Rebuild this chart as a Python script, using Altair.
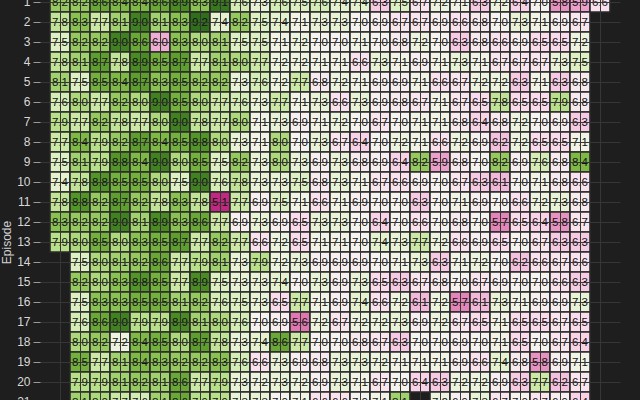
import altair as alt
import pandas as pd

N = None
seasons = list(range(1, 29))
episodes = list(range(1, 26))

ep01 = [8.2, 8.2, 8.6, 8.4, 8.4, 8.6, 8.9, 8.3, 9.1, 7.6, 7.3, 7.6, 7.5, 7.6, 7.4, 7.4, 6.3, 7.5, 6.7, 7.2, 7.1, 6.3, 7.2, 6.4, 7.0, 5.8, 5.9, 6.6]
ep02 = [7.8, 8.3, 7.7, 8.1, 9.0, 8.1, 8.3, 9.2, 7.4, 8.2, 7.5, 7.4, 7.1, 7.3, 7.3, 7.0, 6.9, 6.7, 6.7, 6.9, 6.6, 6.8, 7.0, 7.3, 7.1, 6.9, 6.7]
ep03 = [7.5, 8.2, 8.2, 9.0, 8.6, 6.0, 8.3, 8.0, 8.1, 7.5, 7.5, 7.1, 7.2, 7.0, 7.0, 7.1, 7.0, 6.8, 7.2, 7.0, 6.3, 6.8, 6.6, 6.9, 6.5, 6.5, 7.2]
ep04 = [7.8, 8.1, 8.7, 7.8, 8.9, 8.5, 8.7, 7.7, 8.1, 8.0, 7.7, 7.2, 7.2, 7.1, 7.1, 6.6, 7.3, 7.1, 6.9, 7.1, 7.3, 7.1, 6.7, 6.7, 6.7, 7.3, 7.5]
ep05 = [8.1, 7.5, 8.5, 8.4, 8.7, 8.3, 8.5, 8.2, 8.2, 7.3, 7.6, 7.2, 7.7, 6.8, 7.2, 7.1, 6.9, 6.9, 7.1, 6.6, 6.7, 7.2, 7.2, 6.3, 7.1, 6.3, 6.8]
ep06 = [7.6, 8.0, 7.7, 8.2, 8.0, 9.0, 8.5, 8.0, 7.7, 7.6, 7.3, 7.7, 7.1, 7.3, 6.6, 7.3, 6.9, 6.8, 6.7, 7.1, 6.7, 6.5, 7.8, 6.5, 6.5, 7.9, 6.8]
ep07 = [7.9, 7.7, 8.2, 7.8, 7.7, 8.0, 9.0, 7.8, 7.7, 8.0, 7.1, 7.3, 6.9, 7.1, 7.2, 7.0, 6.7, 7.0, 7.1, 7.1, 6.8, 6.4, 6.8, 7.2, 7.0, 6.9, 6.3]
ep08 = [7.7, 8.4, 7.9, 8.2, 8.7, 8.4, 8.5, 8.8, 8.0, 7.3, 7.1, 8.0, 7.0, 7.3, 6.7, 6.4, 7.0, 7.2, 7.1, 6.6, 7.2, 6.9, 6.2, 7.2, 6.5, 6.5, 7.1]
ep09 = [7.5, 8.1, 7.9, 8.8, 8.4, 9.0, 8.0, 8.5, 7.5, 8.2, 7.3, 8.0, 7.3, 6.9, 7.3, 6.8, 6.9, 6.4, 8.2, 5.9, 6.8, 7.0, 8.2, 6.9, 7.6, 6.8, 8.4]
ep10 = [7.4, 7.8, 8.8, 8.5, 8.5, 8.0, 7.5, 9.0, 7.6, 7.8, 7.3, 7.3, 7.5, 6.8, 7.3, 7.1, 6.7, 6.6, 6.9, 7.0, 6.7, 6.3, 6.1, 7.0, 7.1, 6.8, 6.6]
ep11 = [7.8, 8.8, 8.2, 8.7, 8.2, 7.8, 8.3, 7.8, 5.1, 7.7, 6.9, 7.5, 7.1, 6.6, 7.1, 6.9, 7.0, 7.0, 6.3, 7.0, 7.1, 6.9, 7.0, 6.6, 7.2, 7.3, 6.8]
ep12 = [8.3, 8.2, 8.2, 9.0, 8.1, 8.9, 8.3, 8.6, 7.7, 6.9, 7.3, 6.9, 6.5, 7.3, 7.3, 7.0, 6.4, 7.0, 6.6, 7.0, 6.8, 7.0, 5.7, 6.5, 6.4, 5.8, 6.7]
ep13 = [7.9, 8.0, 8.5, 8.0, 8.3, 8.5, 8.7, 7.7, 8.2, 7.7, 6.6, 7.2, 6.5, 7.1, 7.1, 7.0, 7.4, 7.3, 7.7, 7.2, 6.6, 6.9, 6.5, 7.0, 6.7, 6.3, 6.3]
ep14 = [N, 7.5, 8.0, 8.1, 8.2, 8.6, 7.7, 7.9, 8.1, 7.3, 7.9, 7.2, 7.3, 6.9, 6.9, 6.9, 7.0, 7.1, 7.3, 6.3, 7.1, 7.2, 7.0, 6.2, 6.6, 6.7, 6.6]
ep15 = [N, 8.2, 8.0, 8.3, 8.8, 8.5, 7.7, 8.9, 7.5, 7.3, 7.3, 7.4, 7.0, 7.3, 6.9, 7.3, 6.5, 6.3, 6.7, 6.8, 7.0, 6.7, 6.9, 7.0, 7.0, 6.6, 6.3]
ep16 = [N, 7.5, 8.3, 8.3, 8.5, 8.5, 8.1, 8.2, 7.6, 7.5, 7.3, 6.5, 7.7, 7.1, 6.9, 7.4, 6.6, 7.2, 6.1, 7.2, 5.7, 6.1, 7.3, 7.1, 6.9, 6.9, 7.3]
ep17 = [N, 7.6, 8.6, 9.0, 7.9, 7.9, 8.9, 8.1, 8.0, 7.6, 7.0, 6.9, 5.6, 7.2, 6.7, 7.2, 7.2, 7.3, 6.9, 7.2, 6.7, 6.5, 7.1, 6.5, 6.5, 6.7, 6.5]
ep18 = [N, 8.0, 8.2, 7.2, 8.4, 8.5, 8.0, 8.7, 7.8, 7.3, 7.4, 8.6, 7.7, 7.0, 7.0, 6.8, 6.7, 6.3, 7.0, 7.0, 6.9, 7.0, 7.1, 6.5, 7.0, 6.7, 6.4]
ep19 = [N, 8.5, 7.7, 8.1, 8.4, 8.3, 8.2, 8.2, 8.3, 7.6, 6.6, 7.3, 6.9, 6.8, 7.3, 7.3, 7.2, 7.1, 7.1, 7.1, 6.9, 6.6, 7.4, 6.8, 5.8, 6.9, 7.1]
ep20 = [N, 7.9, 7.9, 8.1, 8.2, 8.1, 8.6, 7.7, 7.9, 7.3, 7.2, 7.3, 7.2, 6.9, 7.3, 7.1, 6.7, 7.0, 6.4, 6.3, 7.2, 7.2, 6.9, 6.3, 7.7, 6.2, 6.7]
ep21 = [N, 8.1, 8.0, 7.7, 7.6, 8.1, 8.6, 7.9, 7.9, 7.3, 7.3, 7.0, 7.1, 6.6, 6.6, 7.0, 7.1, 8.1, N, 7.2, 6.9, 7.3, 6.7, 7.0, 6.7, 6.9, 6.4]

rows = [ep01, ep02, ep03, ep04, ep05, ep06, ep07, ep08, ep09, ep10, ep11,
        ep12, ep13, ep14, ep15, ep16, ep17, ep18, ep19, ep20, ep21]

records = []
for i, row in enumerate(rows):
    for j, v in enumerate(row):
        if v is not None:
            records.append({"Season": seasons[j], "Episode": episodes[i], "Rating": v})
df = pd.DataFrame(records)

FONT = "Liberation Sans"

base = alt.Chart(df).encode(
    x=alt.X("Season:O",
            scale=alt.Scale(domain=seasons, paddingInner=0, paddingOuter=0.5),
            axis=alt.Axis(title="Season", labelAngle=0, orient="bottom")),
    y=alt.Y("Episode:O",
            scale=alt.Scale(domain=episodes, paddingInner=0, paddingOuter=0.5),
            axis=alt.Axis(title="Episode", titleX=-30, titleY=260,
                          titleAngle=270, titleBaseline="alphabetic")),
)

rects = base.mark_rect(stroke="#2a2a2a", strokeWidth=1.6).encode(
    color=alt.Color("Rating:Q",
                    scale=alt.Scale(scheme="pinkyellowgreen", domain=[4.6, 9.3], domainMid=7.0),
                    legend=None)
)

labels = base.mark_text(font=FONT, fontSize=11.5, color="#111111", dy=0.5).encode(
    text=alt.Text("Rating:Q", format=".1f")
)

chart = (rects + labels).properties(
    width=580,
    height=520,
    padding={"left": 40, "top": -18, "right": 20, "bottom": 0},
    autosize=alt.AutoSizeParams(type="none"),
    background="#1e1e1e",
).configure_view(
    stroke=None
).configure_axis(
    grid=True,
    gridColor="#363636",
    gridWidth=1,
    domain=False,
    tickColor="#9a9a9a",
    tickSize=7,
    labelPadding=3,
    labelColor="#d8d8d8",
    labelFont=FONT,
    labelFontSize=12,
    titleColor="#d2d2d2",
    titleFont=FONT,
    titleFontSize=12,
    titleFontWeight="normal",
)

chart.save("out.html", embed_options={"renderer": "svg", "actions": False})
